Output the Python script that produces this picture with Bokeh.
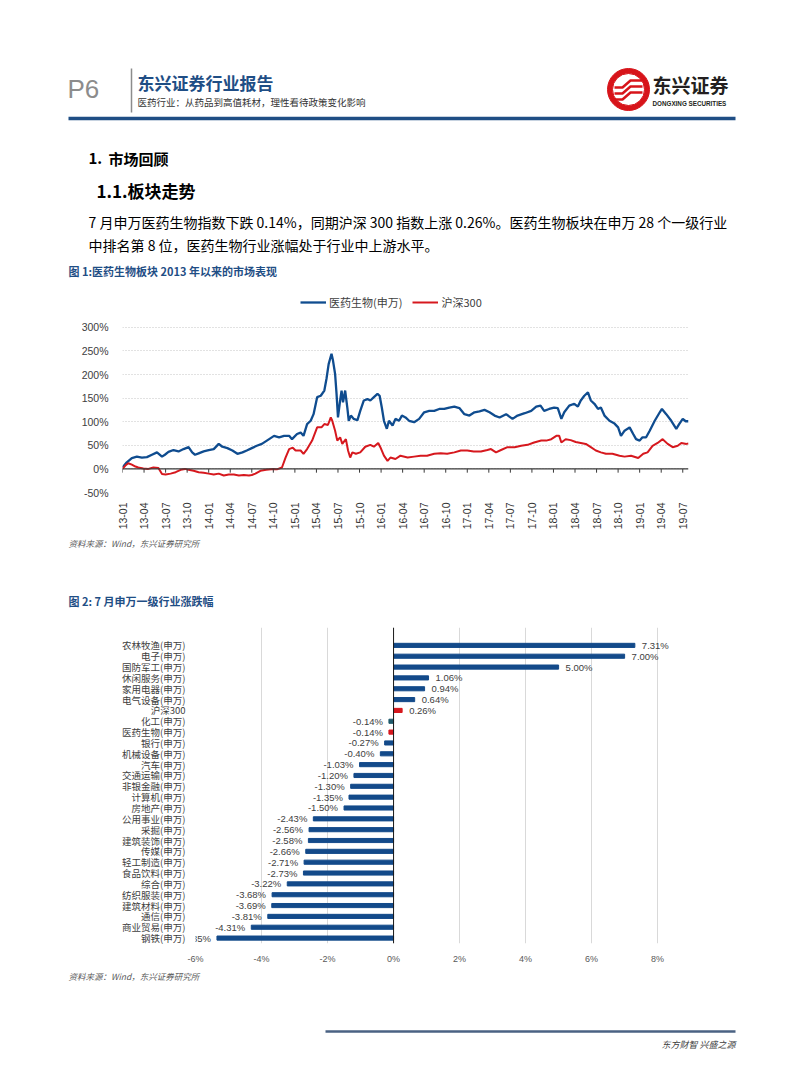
import math
from bokeh.plotting import figure
from bokeh.models import (Range1d, FixedTicker, PrintfTickFormatter, Span, Label, LabelSet,
                          ColumnDataSource, Legend, LegendItem)
from bokeh.layouts import column
from bokeh.embed import file_html
from bokeh.resources import INLINE
from bokeh.core.properties import value

# ------------------------------------------------------------------ data: chart 1
x_tick_labels = ["13-01", "13-04", "13-07", "13-10", "14-01", "14-04", "14-07", "14-10",
                 "15-01", "15-04", "15-07", "15-10", "16-01", "16-04", "16-07", "16-10",
                 "17-01", "17-04", "17-07", "17-10", "18-01", "18-04", "18-07", "18-10",
                 "19-01", "19-04", "19-07"]
y_ticks_pct = [-50, 0, 50, 100, 150, 200, 250, 300]

# months since 2013-01 and cumulative return in %
bio_month = [0.0, 0.6, 1.3, 2.0, 2.7, 3.4, 4.1, 4.8, 5.5, 5.9, 6.4, 7.1, 7.8, 8.5, 9.2, 9.7,
             10.1, 10.6, 11.3, 12.0, 12.7, 13.4, 13.9, 14.6, 15.3, 16.0, 16.7, 17.3, 18.0,
             18.7, 19.4, 20.1, 21.1, 21.8, 22.5, 23.2, 23.6, 24.3, 24.8, 25.2, 25.7, 26.2,
             26.6, 27.1, 27.6, 28.1, 28.4, 28.7, 29.1, 29.3, 29.6, 29.8, 30.0, 30.3, 30.5,
             30.7, 31.0, 31.3, 31.5, 31.8, 32.2, 32.7, 33.1, 33.6, 34.1, 34.5, 35.0, 35.5,
             35.8, 36.1, 36.4, 36.8, 37.1, 37.6, 38.0, 38.5, 38.9, 39.4, 39.9, 40.6, 41.3,
             42.0, 42.7, 43.4, 44.1, 44.8, 45.5, 46.2, 46.9, 47.6, 48.3, 49.0, 49.7, 50.4,
             51.1, 51.8, 52.5, 53.4, 54.3, 55.0, 56.0, 56.9, 57.6, 58.2, 58.7, 59.4, 60.1,
             60.6, 61.1, 61.5, 62.2, 62.9, 63.4, 63.8, 64.3, 64.8, 65.2, 65.7, 66.2, 66.6,
             67.1, 67.8, 68.5, 69.0, 69.4, 69.9, 70.6, 71.1, 71.5, 72.0, 72.4, 72.9, 73.4,
             74.1, 74.8, 75.1, 75.7, 76.4, 77.1, 77.5, 78.0, 78.4, 78.8]
bio_value = [3, 14, 23, 26, 24, 25, 30, 35, 26, 30, 36, 40, 37, 42, 46, 35,
             30, 33, 37, 40, 42, 53, 47, 44, 39, 32, 35, 39, 44,
             49, 53, 60, 70, 67, 70, 70, 63, 74, 77, 70, 95, 102,
             116, 152, 155, 166, 191, 222, 244, 230, 201, 159, 109, 145, 166,
             141, 166, 130, 102, 113, 106, 103, 123, 145, 148, 145, 152, 159,
             155, 130, 102, 85, 102, 92, 106, 102, 113, 109, 102, 99, 106,
             120, 123, 123, 127, 127, 130, 132, 129, 116, 113, 120, 122, 125,
             120, 113, 109, 116, 106, 113, 118, 123, 132, 134, 123, 127, 130,
             129, 106, 120, 134, 138, 132, 145, 155, 162, 145, 138, 127, 130,
             113, 102, 96, 88, 70, 81, 88, 74, 63, 60, 67, 67, 81,
             102, 120, 127, 116, 102, 85, 95, 106, 101, 101]

hs_month = [0.0, 0.4, 0.8, 1.3, 1.8, 2.2, 2.9, 3.6, 4.3, 5.0, 5.5, 6.0, 6.7, 7.4, 8.1, 8.7,
            9.2, 9.9, 10.6, 11.3, 12.0, 12.7, 13.4, 14.1, 14.8, 15.5, 16.2, 16.9, 17.6,
            18.0, 18.5, 19.2, 20.0, 21.0, 21.5, 22.2, 22.7, 23.2, 23.7, 24.1, 24.8, 25.2,
            25.7, 26.4, 27.1, 27.7, 28.1, 28.6, 29.0, 29.2, 29.6, 29.9, 30.3, 30.6, 31.1,
            31.4, 31.7, 32.0, 32.5, 33.1, 33.8, 34.5, 35.0, 35.6, 35.9, 36.4, 36.9, 37.3,
            38.0, 38.7, 39.7, 40.6, 41.5, 42.4, 43.4, 44.3, 45.2, 46.2, 47.1, 48.0, 48.9,
            49.9, 50.8, 51.3, 52.0, 52.7, 53.6, 54.6, 55.5, 56.4, 57.3, 58.3, 59.0, 59.7,
            60.4, 60.8, 61.1, 61.7, 62.4, 63.1, 63.8, 64.5, 65.2, 65.9, 66.6, 67.3, 68.2,
            69.2, 69.9, 70.8, 71.8, 72.5, 73.1, 73.8, 74.5, 75.2, 75.9, 76.6, 77.3, 77.8,
            78.5, 78.8]
hs_value = [0, 7, 12, 9, 5, 3, 1, 0, 3, 2, -11, -12, -10, -7, -2, 0,
            -2, -4, -7, -8, -10, -12, -10, -14, -12, -12, -14, -13, -14,
            -13, -10, -4, -2, 0, -1, 3, 24, 42, 45, 39, 39, 32,
            42, 60, 88, 88, 95, 93, 109, 102, 81, 60, 67, 53, 63,
            39, 24, 35, 32, 35, 47, 51, 47, 55, 46, 28, 17, 24,
            21, 28, 24, 26, 28, 28, 32, 33, 32, 35, 39, 39, 37,
            37, 40, 42, 35, 40, 46, 46, 49, 51, 56, 60, 60, 63,
            70, 70, 56, 63, 61, 57, 55, 53, 46, 39, 35, 32, 32,
            28, 26, 28, 23, 32, 35, 49, 55, 63, 53, 46, 49, 55,
            53, 54]

series1_name = "医药生物(申万)"
series2_name = "沪深300"

# ------------------------------------------------------------------ data: chart 2
industries = ["农林牧渔(申万)", "电子(申万)", "国防军工(申万)", "休闲服务(申万)", "家用电器(申万)",
              "电气设备(申万)", "沪深300", "化工(申万)", "医药生物(申万)", "银行(申万)",
              "机械设备(申万)", "汽车(申万)", "交通运输(申万)", "非银金融(申万)", "计算机(申万)",
              "房地产(申万)", "公用事业(申万)", "采掘(申万)", "建筑装饰(申万)", "传媒(申万)",
              "轻工制造(申万)", "食品饮料(申万)", "综合(申万)", "纺织服装(申万)", "建筑材料(申万)",
              "通信(申万)", "商业贸易(申万)", "钢铁(申万)"]
changes = [7.31, 7.00, 5.00, 1.06, 0.94, 0.64, 0.26, -0.14, -0.14, -0.27,
           -0.40, -1.03, -1.20, -1.30, -1.35, -1.50, -2.43, -2.56, -2.58, -2.66,
           -2.71, -2.73, -3.22, -3.68, -3.69, -3.81, -4.31, -5.35]
x_ticks_pct2 = [-6, -4, -2, 0, 2, 4, 6, 8]

# ------------------------------------------------------------------ styles
W = 800
CJK = "Noto Sans CJK SC"
SANS = "Liberation Sans"
NAVY = "#1f4e85"
BLUE = "#0f4c8f"
RED = "#d6181e"
BAR_BLUE = "#134a8a"
TEAL = "#1f5a6c"


def blank(h):
    p = figure(width=W, height=h, x_range=Range1d(0, W), y_range=Range1d(h, 0),
               toolbar_location=None, output_backend="svg", min_border=0,
               x_axis_location=None, y_axis_location=None, frame_align=False)
    p.grid.visible = False
    p.outline_line_color = None
    p.background_fill_color = "white"
    p.border_fill_color = "white"
    return p


def txt(p, x, y, s, size, color="#000000", style="normal", font=CJK, align="left"):
    p.add_layout(Label(x=x, y=y, text=s, text_font=font, text_font_size=f"{size}px",
                       text_color=color, text_font_style=style, text_align=align,
                       text_baseline="middle"))


# ------------------------------------------------------------------ segment 1: header & text
h1 = 288
s1 = blank(h1)
txt(s1, 67, 88, "P6", 26, "#8c8c8c", font=SANS)
s1.segment(x0=[131], y0=[68], x1=[131], y1=[112], line_color="#8c8c8c", line_width=1.5)
txt(s1, 137, 82, "东兴证券行业报告", 17, NAVY, "bold")
txt(s1, 137, 101, "医药行业：从药品到高值耗材，理性看待政策变化影响", 9.5, "#333333")
# logo
s1.annulus(x=[628], y=[89], inner_radius=16, outer_radius=21, color="#d7141a")
for dy in (-6, 0, 6):
    s1.line(x=[614, 622, 630, 642], y=[93 + dy, 93 + dy, 86 + dy, 86 + dy],
            line_color="#d7141a", line_width=2.5)
txt(s1, 652, 84, "东兴证券", 19, "#231f20", "bold")
txt(s1, 652, 103, "DONGXING SECURITIES", 6.3, "#231f20", "bold", font=SANS)
s1.segment(x0=[68], y0=[118], x1=[735], y1=[118], line_color=NAVY, line_width=3.5)

txt(s1, 88, 158, "1.", 15, "#000000", "bold")
txt(s1, 108, 158, "市场回顾", 15, "#000000", "bold")
txt(s1, 96, 190, "1.1.板块走势", 17, "#000000", "bold")
txt(s1, 88, 221, "7 月申万医药生物指数下跌 0.14%，同期沪深 300 指数上涨 0.26%。医药生物板块在申万 28 个一级行业",
    14, "#000000")
txt(s1, 88, 244, "中排名第 8 位，医药生物行业涨幅处于行业中上游水平。", 14, "#000000")
txt(s1, 68, 270, "图 1:医药生物板块 2013 年以来的市场表现", 11, NAVY, "bold")

# ------------------------------------------------------------------ segment 2: line chart
tick_pos = [3 * i for i in range(len(x_tick_labels))]
p1 = figure(width=W, height=248, x_range=Range1d(0, 78.8), y_range=Range1d(-50, 373.8),
            toolbar_location=None, output_backend="svg", frame_align=False,
            min_border_left=122, min_border_right=112, min_border_top=4, min_border_bottom=44)
p1.outline_line_color = None
p1.background_fill_color = "white"
p1.border_fill_color = "white"
p1.xgrid.visible = False
p1.ygrid.ticker = FixedTicker(ticks=y_ticks_pct)
p1.ygrid.grid_line_color = "#c4c4c4"
p1.ygrid.grid_line_dash = "1 2"
p1.yaxis.ticker = FixedTicker(ticks=y_ticks_pct)
p1.yaxis.formatter = PrintfTickFormatter(format="%d%%")
p1.yaxis.axis_line_color = None
p1.yaxis.major_tick_line_color = None
p1.yaxis.minor_tick_line_color = None
p1.yaxis.major_label_standoff = 8
p1.yaxis.major_label_text_font = SANS
p1.yaxis.major_label_text_font_size = "10.5px"
p1.yaxis.major_label_text_color = "#404040"
p1.xaxis.ticker = FixedTicker(ticks=tick_pos)
p1.xaxis.major_label_overrides = {t: lab for t, lab in zip(tick_pos, x_tick_labels)}
p1.xaxis.major_label_orientation = math.pi / 2
p1.xaxis.axis_line_color = None
p1.xaxis.major_tick_line_color = None
p1.xaxis.minor_tick_line_color = None
p1.xaxis.major_label_standoff = 4
p1.xaxis.major_label_text_font = SANS
p1.xaxis.major_label_text_font_size = "10.5px"
p1.xaxis.major_label_text_color = "#333333"

r_bio = p1.line(bio_month, bio_value, line_color=BLUE, line_width=2.3)
r_hs = p1.line(hs_month, hs_value, line_color=RED, line_width=2.0)
p1.add_layout(Span(location=0, dimension="width", line_color="#3a3a3a", line_width=1.2))
p1.segment(x0=tick_pos, y0=[0] * len(tick_pos), x1=tick_pos, y1=[-8] * len(tick_pos),
           line_color="#3a3a3a", line_width=1)

legend = Legend(items=[LegendItem(label=series1_name, renderers=[r_bio]),
                       LegendItem(label=series2_name, renderers=[r_hs])],
                orientation="horizontal", location=(178, 182), padding=0, margin=0,
                spacing=10, glyph_width=26, glyph_height=14, label_height=14,
                label_standoff=3, label_text_font=CJK, label_text_font_size="11px",
                label_text_color="#404040", background_fill_alpha=0, border_line_color=None)
p1.add_layout(legend)

# ------------------------------------------------------------------ segment 3: source + caption
h3 = 84
s3 = blank(h3)
txt(s3, 68, 6, "资料来源：Wind，东兴证券研究所", 8.5, "#595959", "italic")
txt(s3, 68, 64, "图 2: 7 月申万一级行业涨跌幅", 11, NAVY, "bold")

# ------------------------------------------------------------------ segment 4: bar chart
ypos = list(range(len(industries)))
bar_colors = [RED if n in ("沪深300", "医药生物(申万)") else TEAL if n == "化工(申万)" else BAR_BLUE
              for n in industries]
p2 = figure(width=W, height=346, x_range=Range1d(-6, 9.42), y_range=Range1d(27.5, -1.65),
            toolbar_location=None, output_backend="svg", frame_align=False,
            min_border_left=195, min_border_right=96, min_border_top=7, min_border_bottom=22)
p2.outline_line_color = None
p2.background_fill_color = "white"
p2.border_fill_color = "white"
p2.ygrid.visible = False
p2.xgrid.ticker = FixedTicker(ticks=x_ticks_pct2)
p2.xgrid.grid_line_color = "#d9d9d9"
p2.xaxis.ticker = FixedTicker(ticks=x_ticks_pct2)
p2.xaxis.formatter = PrintfTickFormatter(format="%d%%")
p2.xaxis.axis_line_color = None
p2.xaxis.major_tick_line_color = None
p2.xaxis.minor_tick_line_color = None
p2.xaxis.major_label_standoff = 4
p2.xaxis.major_label_text_font = SANS
p2.xaxis.major_label_text_font_size = "9px"
p2.xaxis.major_label_text_color = "#595959"
p2.yaxis.ticker = FixedTicker(ticks=ypos)
p2.yaxis.major_label_overrides = {i: n for i, n in zip(ypos, industries)}
p2.yaxis.axis_line_color = None
p2.yaxis.major_tick_line_color = None
p2.yaxis.minor_tick_line_color = None
p2.yaxis.major_label_standoff = 4
p2.yaxis.major_label_text_font = CJK
p2.yaxis.major_label_text_font_size = "9.5px"
p2.yaxis.major_label_text_color = "#404040"

src2 = ColumnDataSource(dict(y=ypos, v=changes, c=bar_colors))
p2.hbar(y="y", left=0, right="v", height=0.38, color="c", source=src2)
p2.add_layout(Span(location=0, dimension="height", line_color="#1a1a1a", line_width=1))

pos = [i for i, v in enumerate(changes) if v >= 0]
neg = [i for i, v in enumerate(changes) if v < 0]
src_pos = ColumnDataSource(dict(y=[ypos[i] for i in pos], v=[changes[i] for i in pos],
                                lab=[f"{changes[i]:.2f}%" for i in pos]))
src_neg = ColumnDataSource(dict(y=[ypos[i] for i in neg], v=[changes[i] for i in neg],
                                lab=[f"{changes[i]:.2f}%" for i in neg]))
p2.add_layout(LabelSet(x="v", y="y", text="lab", source=src_pos, x_offset=7,
                       text_align="left", text_baseline="middle", text_font=value(SANS),
                       text_font_size="9.5px", text_color="#404040"))
p2.add_layout(LabelSet(x="v", y="y", text="lab", source=src_neg, x_offset=-6,
                       text_align="right", text_baseline="middle", text_font=value(SANS),
                       text_font_size="9.5px", text_color="#404040"))

# ------------------------------------------------------------------ segment 5: footer
h5 = 112
s5 = blank(h5)
txt(s5, 68, 9, "资料来源：Wind，东兴证券研究所", 8.5, "#595959", "italic")
s5.segment(x0=[325], y0=[65], x1=[735], y1=[65], line_color="#4a6283", line_width=2.5)
txt(s5, 735, 78, "东方财智 兴盛之源", 9, "#404040", "italic", align="right")

page = column(s1, p1, s3, p2, s5, spacing=0)
open("out.html", "w").write(file_html(page, INLINE))
